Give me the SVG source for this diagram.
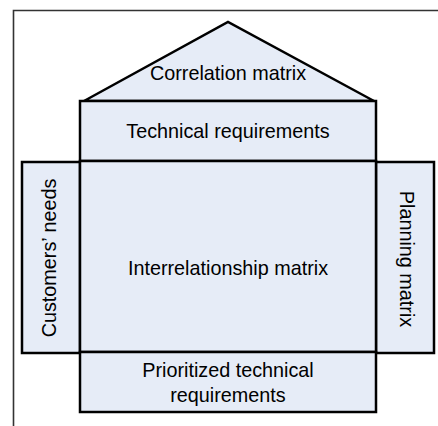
<svg xmlns="http://www.w3.org/2000/svg" width="438" height="426" viewBox="0 0 438 426">
<style>
.box{fill:#E6ECF7;stroke:#000;stroke-width:2.5;stroke-linejoin:miter}
.t{font-family:"Liberation Sans",Arial,sans-serif;font-size:19.8px;fill:#000;text-anchor:middle}
</style>
<rect width="438" height="426" fill="#fff"/>
<g id="frame"><path d="M13.5,426 V10.5 H438" fill="none" stroke="#333" stroke-width="1.6"/></g>
<g id="connectors"></g>
<g id="correlation"><polygon class="box" points="84,101 228,22 374,101"/><text class="t" x="228" y="80">Correlation matrix</text></g>
<g id="technical"><rect class="box" x="80" y="101" width="296" height="60"/><text class="t" x="228" y="138">Technical requirements</text></g>
<g id="customers"><rect class="box" x="22" y="162" width="58" height="191"/><text class="t" transform="translate(56,258) rotate(-90)">Customers’ needs</text></g>
<g id="planning"><rect class="box" x="376" y="162" width="58" height="191"/><text class="t" transform="translate(400,259) rotate(90)">Planning matrix</text></g>
<g id="interrelationship"><rect class="box" x="80" y="161" width="296" height="191"/><text class="t" x="228" y="275">Interrelationship matrix</text></g>
<g id="prioritized"><rect class="box" x="80" y="352" width="296" height="60"/><text class="t" x="228" y="377">Prioritized technical</text><text class="t" x="228" y="402">requirements</text></g>
</svg>
